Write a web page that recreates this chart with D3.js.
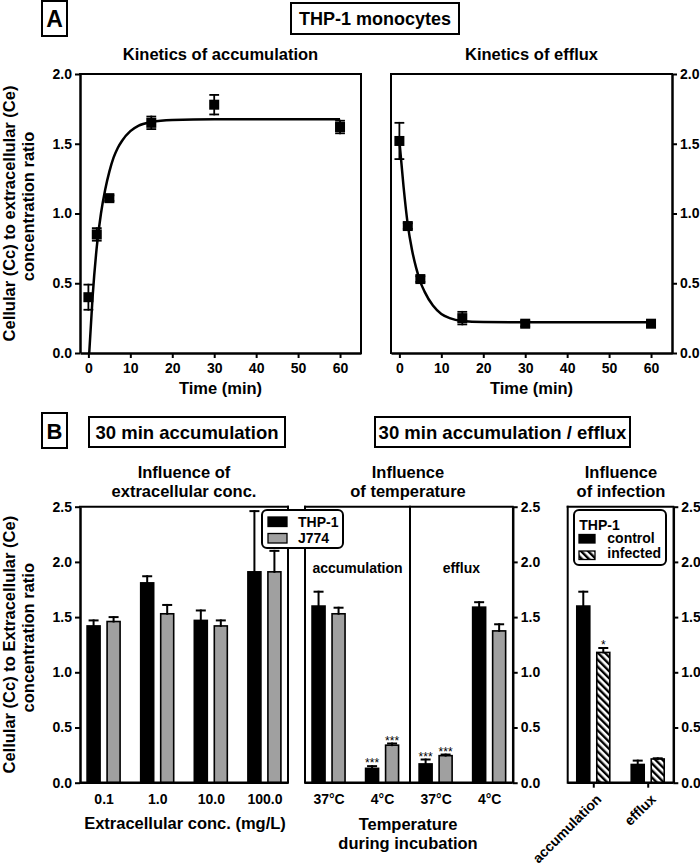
<!DOCTYPE html>
<html><head><meta charset="utf-8">
<script src="https://cdn.jsdelivr.net/npm/d3@7"></script>
<style>body{margin:0;background:#fff}svg{display:block}</style>
</head><body>
<script>
// ---------- DATA ----------
// Panel A: kinetics of accumulation (THP-1)
const accTime = [0, 2, 5, 15, 30, 60];
const accMean = [0.40, 0.85, 1.11, 1.65, 1.78, 1.62];
const accErr  = [0.09, 0.045, 0.02, 0.045, 0.07, 0.045];
// fitted curve
const accFitT = [0.2, 1, 2, 3, 4, 5, 6, 7, 8, 10, 12, 15, 20, 30, 45, 60];
const accFitY = [0, 0.40, 0.76, 1.00, 1.17, 1.30, 1.40, 1.47, 1.52, 1.59, 1.63, 1.655, 1.67, 1.675, 1.675, 1.675];
// Panel A: kinetics of efflux
const effTime = [0, 2, 5, 15, 30, 60];
const effMean = [1.52, 0.91, 0.53, 0.25, 0.21, 0.21];
const effErr  = [0.13, 0.02, 0.02, 0.045, 0.02, 0.02];
const effFitT = [0, 1, 2, 3, 4, 5, 6, 8, 10, 12, 15, 20, 30, 45, 60];
const effFitY = [1.52, 1.19, 0.92, 0.74, 0.61, 0.51, 0.44, 0.34, 0.28, 0.25, 0.23, 0.222, 0.22, 0.22, 0.22];
const timeTicks = [0, 10, 20, 30, 40, 50, 60];
const ratioTicksA = [0, 0.5, 1.0, 1.5, 2.0];

// Panel B: influence of extracellular concentration
const concCats = ["0.1", "1.0", "10.0", "100.0"];
const concTHP = [1.42, 1.81, 1.47, 1.91];
const concTHPErr = [0.05, 0.06, 0.09, 0.55];
const concJ774 = [1.46, 1.53, 1.42, 1.91];
const concJ774Err = [0.04, 0.08, 0.05, 0.19];

// Panel B: influence of temperature
const tempCats = ["acc37", "acc4", "eff37", "eff4"];
const tempLabels = ["37°C", "4°C", "37°C", "4°C"];
const tempTHP = [1.60, 0.13, 0.17, 1.59];
const tempTHPErr = [0.13, 0.02, 0.04, 0.045];
const tempJ774 = [1.53, 0.34, 0.245, 1.375];
const tempJ774Err = [0.055, 0.015, 0.01, 0.06];
const tempTHPSig = ["", "***", "***", ""];
const tempJ774Sig = ["", "***", "***", ""];

// Panel B: influence of infection (THP-1)
const infCats = ["accumulation", "efflux"];
const infControl = [1.60, 0.165];
const infControlErr = [0.13, 0.035];
const infInfected = [1.18, 0.215];
const infInfectedErr = [0.04, 0.006];
const infInfectedSig = ["*", ""];
const ratioTicksB = [0, 0.5, 1.0, 1.5, 2.0, 2.5];

// ---------- DRAW ----------
const FONT = '"Liberation Sans", Arial, Helvetica, sans-serif';
const GRAY = "#a0a0a0";
const svg = d3.select("body").append("svg").attr("width", 700).attr("height", 867);
svg.append("rect").attr("width", 700).attr("height", 867).attr("fill", "#fff");

const defs = svg.append("defs");
const pat = defs.append("pattern").attr("id", "hatch").attr("patternUnits", "userSpaceOnUse")
  .attr("width", 5).attr("height", 5).attr("patternTransform", "rotate(-45)");
pat.append("rect").attr("width", 5).attr("height", 5).attr("fill", "#fff");
pat.append("rect").attr("width", 2.4).attr("height", 5).attr("fill", "#000");

function text(x, y, s, size, opts = {}) {
  return svg.append("text").attr("x", x).attr("y", y).text(s)
    .attr("font-family", FONT).attr("font-size", size)
    .attr("font-weight", opts.weight || "bold")
    .attr("text-anchor", opts.anchor || "middle").attr("fill", "#000");
}
function boxText(x0, y0, x1, y1, s, size, baseline) {
  svg.append("rect").attr("x", x0).attr("y", y0).attr("width", x1 - x0).attr("height", y1 - y0)
    .attr("fill", "#fff").attr("stroke", "#000").attr("stroke-width", 2);
  text((x0 + x1) / 2, baseline, s, size);
}
function line(x1, y1, x2, y2, w) {
  svg.append("line").attr("x1", x1).attr("y1", y1).attr("x2", x2).attr("y2", y2)
    .attr("stroke", "#000").attr("stroke-width", w || 2).attr("stroke-linecap", "square");
}
function styleAxis(g) {
  g.attr("font-family", FONT).attr("font-size", 14).attr("font-weight", "bold");
  g.select(".domain").attr("stroke-width", 2.5);
  g.selectAll(".tick line").attr("stroke-width", 2);
  g.selectAll(".tick text").attr("fill", "#000");
}
function yTitle(x1, x2, cy, l1, l2) {
  text(0, 0, l1, 16.5).attr("transform", `translate(${x1},${cy}) rotate(-90)`);
  text(0, 0, l2, 16.5).attr("transform", `translate(${x2},${cy - 7}) rotate(-90)`);
}

// ----- Panel A -----
boxText(42, 1, 67, 36, "A", 23, 27);
boxText(291, 3, 459, 34, "THP-1 monocytes", 18, 24.5);

function kinetics(x0, x1, side, title, T, M, E, fT, fY) {
  const x = d3.scaleLinear().domain([-2, 65]).range([x0, x1]);
  const y = d3.scaleLinear().domain([0, 2]).range([353, 74]);
  // frame
  line(x0, 74, x1, 74, 2);
  if (side === "left") line(x1, 74, x1, 353, 2); else line(x0, 74, x0, 353, 2);
  const gx = svg.append("g").attr("transform", "translate(0,353)")
    .call(d3.axisBottom(x).tickValues(timeTicks).tickSize(5).tickSizeOuter(0).tickPadding(5));
  styleAxis(gx);
  const ax = side === "left" ? d3.axisLeft(y) : d3.axisRight(y);
  const gy = svg.append("g").attr("transform", `translate(${side === "left" ? x0 : x1},0)`)
    .call(ax.tickValues(ratioTicksA).tickFormat(d3.format(".1f")).tickSize(5).tickSizeOuter(0).tickPadding(3));
  styleAxis(gy);
  text((x0 + x1) / 2, 59.5, title, 16.5);
  text((x0 + x1) / 2, 394, "Time (min)", 16.5);
  // fit curve
  svg.append("path").datum(fT.map((t, i) => [t, fY[i]]))
    .attr("d", d3.line().x(d => x(d[0])).y(d => y(d[1])).curve(d3.curveMonotoneX))
    .attr("fill", "none").attr("stroke", "#000").attr("stroke-width", 2.5);
  // error bars
  T.forEach((t, i) => {
    const cx = x(t), yh = y(M[i] + E[i]), yl = y(M[i] - E[i]);
    line(cx, yh, cx, yl, 1.8);
    line(cx - 4, yh, cx + 4, yh, 1.8);
    line(cx - 4, yl, cx + 4, yl, 1.8);
  });
  svg.append("g").selectAll("rect").data(T).join("rect")
    .attr("x", (t) => x(t) - 5).attr("y", (t, i) => y(M[i]) - 5)
    .attr("width", 10).attr("height", 10).attr("fill", "#000");
}
kinetics(80, 361, "left", "Kinetics of accumulation", accTime, accMean, accErr, accFitT, accFitY);
kinetics(391, 672, "right", "Kinetics of efflux", effTime, effMean, effErr, effFitT, effFitY);
yTitle(14.5, 33.5, 213.5, "Cellular (Cc) to extracellular (Ce)", "concentration ratio");

// ----- Panel B -----
boxText(42, 413, 67, 448, "B", 22, 438.5);
boxText(89, 417, 285, 447, "30 min accumulation", 18.5, 438.5);
boxText(375, 417, 630, 447, "30 min accumulation / efflux", 18.5, 438.5);

const yB = d3.scaleLinear().domain([0, 2.5]).range([782.7, 506.7]);
const BW = 13, OFF = 10;

function bars(xs, cats, vals, errs, offset, fill, sig) {
  const g = svg.append("g");
  cats.forEach((c, i) => {
    const cx = xs(c) + offset;
    const top = yB(vals[i] + errs[i]);
    line(cx, yB(vals[i]), cx, top, 2);
    line(cx - 4, top, cx + 4, top, 2);
    g.append("rect").attr("x", cx - BW / 2).attr("y", yB(vals[i]))
      .attr("width", BW).attr("height", yB(0) - yB(vals[i]))
      .attr("fill", fill).attr("stroke", "#000").attr("stroke-width", 1.6);
    if (sig && sig[i]) text(cx, top + 1, sig[i], 12, { weight: "normal" });
  });
}

// left: extracellular concentration
{
  const x0 = 80, x1 = 288;
  const xs = d3.scalePoint().domain(concCats).range([x0, x1]).padding(0.44);
  line(x0, 506.7, x1, 506.7, 2);
  line(x1, 506.7, x1, 782.7, 2);
  bars(xs, concCats, concTHP, concTHPErr, -OFF, "#000");
  bars(xs, concCats, concJ774, concJ774Err, OFF, GRAY);
  const gx = svg.append("g").attr("transform", "translate(0,782.7)")
    .call(d3.axisBottom(xs).tickSize(0).tickPadding(11.5));
  styleAxis(gx);
  gx.select(".domain").attr("d", `M${x0},0H${x1}`);
  const gy = svg.append("g").attr("transform", `translate(${x0},0)`)
    .call(d3.axisLeft(yB).tickValues(ratioTicksB).tickFormat(d3.format(".1f")).tickSize(5).tickSizeOuter(0).tickPadding(3));
  styleAxis(gy);
  text(184, 477.5, "Influence of", 16.5);
  text(184, 497, "extracellular conc.", 16.5);
  text(185, 828.5, "Extracellular conc. (mg/L)", 16.5);
}

// middle: temperature
{
  const x0 = 305, x1 = 512.7, xd = 410;
  const xs = d3.scalePoint().domain(tempCats).range([x0, x1]).padding(0.44);
  line(x0, 506.7, x1, 506.7, 2);
  line(x0, 506.7, x0, 782.7, 2);
  line(xd, 506.7, xd, 782.7, 2);
  bars(xs, tempCats, tempTHP, tempTHPErr, -OFF, "#000", tempTHPSig);
  bars(xs, tempCats, tempJ774, tempJ774Err, OFF, GRAY, tempJ774Sig);
  const gx = svg.append("g").attr("transform", "translate(0,782.7)")
    .call(d3.axisBottom(xs).tickSize(0).tickPadding(11.5).tickFormat((d, i) => tempLabels[i]));
  styleAxis(gx);
  gx.select(".domain").attr("d", `M${x0},0H${x1}`);
  const gy = svg.append("g").attr("transform", `translate(${x1},0)`)
    .call(d3.axisRight(yB).tickValues(ratioTicksB).tickFormat(d3.format(".1f")).tickSize(5).tickSizeOuter(0).tickPadding(3));
  styleAxis(gy);
  text((x0 + xd) / 2, 572.7, "accumulation", 14);
  text((xd + x1) / 2, 572.7, "efflux", 14);
  text(408, 477.5, "Influence", 16.5);
  text(408, 497, "of temperature", 16.5);
  text(408, 830, "Temperature", 16.5);
  text(408, 848.5, "during incubation", 16.5);
}

// right: infection
{
  const x0 = 567.7, x1 = 673.3;
  const xs = d3.scalePoint().domain(infCats).range([x0, x1]).padding(0.47);
  line(x0, 506.7, x1, 506.7, 2);
  line(x0, 506.7, x0, 782.7, 2);
  bars(xs, infCats, infControl, infControlErr, -OFF, "#000");
  bars(xs, infCats, infInfected, infInfectedErr, OFF, "url(#hatch)", infInfectedSig);
  const gx = svg.append("g").attr("transform", "translate(0,782.7)")
    .call(d3.axisBottom(xs).tickSize(5).tickSizeOuter(0));
  styleAxis(gx);
  gx.select(".domain").attr("d", `M${x0},0H${x1}`);
  gx.selectAll(".tick text").attr("x", 0).attr("y", 0).attr("dy", "0.35em")
    .attr("text-anchor", "end").attr("transform", "translate(5,14) rotate(-45)");
  const gy = svg.append("g").attr("transform", `translate(${x1},0)`)
    .call(d3.axisRight(yB).tickValues(ratioTicksB).tickFormat(d3.format(".1f")).tickSize(5).tickSizeOuter(0).tickPadding(3));
  styleAxis(gy);
  text(621, 477.5, "Influence", 16.5);
  text(621, 497, "of infection", 16.5);
}

yTitle(14.5, 33.5, 644.7, "Cellular (Cc) to Extracellular (Ce)", "concentration ratio");

// legends
{
  svg.append("rect").attr("x", 262).attr("y", 510).attr("width", 81).attr("height", 38).attr("rx", 5)
    .attr("fill", "#fff").attr("stroke", "#000").attr("stroke-width", 2);
  const names = ["THP-1", "J774"], fills = ["#000", GRAY];
  names.forEach((n, i) => {
    svg.append("rect").attr("x", 268).attr("y", 517 + i * 16.5).attr("width", 19).attr("height", 9.5)
      .attr("fill", fills[i]).attr("stroke", "#000").attr("stroke-width", 1.3);
    text(298, 526.7 + i * 16.6, n, 14, { anchor: "start" });
  });
}
{
  svg.append("rect").attr("x", 574).attr("y", 510).attr("width", 92).attr("height", 55).attr("rx", 5)
    .attr("fill", "#fff").attr("stroke", "#000").attr("stroke-width", 2);
  text(579.3, 530, "THP-1", 14, { anchor: "start" });
  const names = ["control", "infected"], fills = ["#000", "url(#hatch)"];
  names.forEach((n, i) => {
    svg.append("rect").attr("x", 579).attr("y", 534.5 + i * 16.5).attr("width", 16).attr("height", 8.5)
      .attr("fill", fills[i]).attr("stroke", "#000").attr("stroke-width", 1.3);
    text(607.3, 542.7 + i * 15.6, n, 14, { anchor: "start" });
  });
}
</script>
</body></html>
